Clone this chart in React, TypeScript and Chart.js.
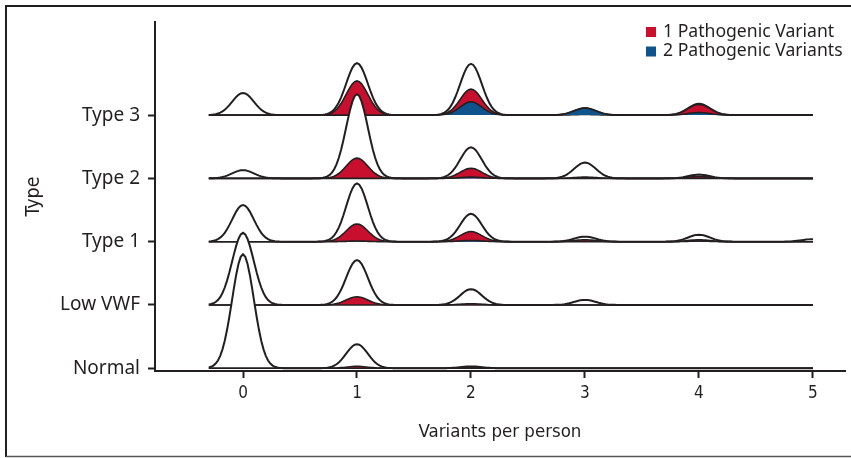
import React, { useEffect, useRef } from 'react';
import { Chart, registerables } from 'chart.js';

Chart.register(...registerables);

// ---- data ----
const ROW_LABELS = ['Normal', 'Low VWF', 'Type 1', 'Type 2', 'Type 3'];
const VARIANT_COUNTS = [0, 1, 2, 3, 4, 5];
const X_TICKS = [0, 1, 2, 3, 4, 5];
const X_AXIS_TITLE = 'Variants per person';
const Y_AXIS_TITLE = 'Type';
const SERIES_LABELS = ['1 Pathogenic Variant', '2 Pathogenic Variants'];

// density height at each variant count (in row units), one array per group
const TOTAL_NORMAL = [1.8, 0.38, 0.03, 0, 0, 0];
const TOTAL_LOW_VWF = [1.14, 0.71, 0.25, 0.08, 0, 0];
const TOTAL_TYPE1 = [0.58, 0.92, 0.44, 0.08, 0.11, 0.04];
const TOTAL_TYPE2 = [0.13, 1.33, 0.49, 0.25, 0.06, 0];
const TOTAL_TYPE3 = [0.35, 0.82, 0.81, 0.11, 0.18, 0];

const ONE_VARIANT_NORMAL = [0, 0.03, 0.01, 0, 0, 0];
const ONE_VARIANT_LOW_VWF = [0, 0.13, 0.02, 0, 0, 0];
const ONE_VARIANT_TYPE1 = [0, 0.28, 0.16, 0.03, 0.03, 0];
const ONE_VARIANT_TYPE2 = [0, 0.32, 0.16, 0.02, 0.03, 0];
const ONE_VARIANT_TYPE3 = [0, 0.54, 0.41, 0.01, 0.17, 0];

const TWO_VARIANTS_NORMAL = [0, 0, 0, 0, 0, 0];
const TWO_VARIANTS_LOW_VWF = [0, 0, 0, 0, 0, 0];
const TWO_VARIANTS_TYPE1 = [0, 0.01, 0.02, 0, 0.01, 0];
const TWO_VARIANTS_TYPE2 = [0, 0, 0.02, 0, 0, 0];
const TWO_VARIANTS_TYPE3 = [0, 0, 0.21, 0.11, 0.04, 0];

const TOTALS = [TOTAL_NORMAL, TOTAL_LOW_VWF, TOTAL_TYPE1, TOTAL_TYPE2, TOTAL_TYPE3];
const ONES = [ONE_VARIANT_NORMAL, ONE_VARIANT_LOW_VWF, ONE_VARIANT_TYPE1, ONE_VARIANT_TYPE2, ONE_VARIANT_TYPE3];
const TWOS = [TWO_VARIANTS_NORMAL, TWO_VARIANTS_LOW_VWF, TWO_VARIANTS_TYPE1, TWO_VARIANTS_TYPE2, TWO_VARIANTS_TYPE3];

const BANDWIDTH = 0.095;
const X_FROM = -0.3;
const X_TO = 5;

const INK = '#231f20';
const RED = '#c8102e';
const BLUE = '#0e538c';
const NARROW = '"Liberation Sans Narrow", "DejaVu Sans Condensed", sans-serif';

function ridge(heights: number[], row: number) {
  const pts: { x: number; y: number }[] = [];
  const n = 265;
  for (let i = 0; i <= n; i++) {
    const x = X_FROM + ((X_TO - X_FROM) * i) / n;
    let d = 0;
    VARIANT_COUNTS.forEach((k, j) => {
      const z = (x - k) / BANDWIDTH;
      d += heights[j] * Math.exp(-0.5 * z * z);
    });
    pts.push({ x, y: row + d });
  }
  return pts;
}

const framePlugin = {
  id: 'frame',
  beforeDraw(chart: any) {
    const ctx = chart.ctx;
    ctx.save();
    ctx.fillStyle = '#ffffff';
    ctx.fillRect(0, 0, chart.width, chart.height);
    ctx.strokeStyle = INK;
    ctx.lineWidth = 2;
    ctx.beginPath();
    ctx.moveTo(6, 457);
    ctx.lineTo(6, 6);
    ctx.lineTo(chart.width, 6);
    ctx.stroke();
    ctx.strokeStyle = '#555555';
    ctx.lineWidth = 1.5;
    ctx.beginPath();
    ctx.moveTo(6, 456.5);
    ctx.lineTo(chart.width, 456.5);
    ctx.stroke();
    ctx.restore();
  },
};

const legendPlugin = {
  id: 'ridgeLegend',
  afterDraw(chart: any) {
    const ctx = chart.ctx;
    ctx.save();
    ctx.font = '17.6px "Noto Sans"';
    ctx.textBaseline = 'middle';
    ctx.textAlign = 'left';
    const colors = [RED, BLUE];
    SERIES_LABELS.forEach((label, i) => {
      const cy = 31.5 + i * 19.5;
      ctx.fillStyle = colors[i];
      ctx.fillRect(646, cy - 4.5, 10, 10);
      ctx.fillStyle = INK;
      ctx.fillText(label, 663, cy);
    });
    ctx.restore();
  },
};

export default function App() {
  const ref = useRef<HTMLCanvasElement>(null);

  useEffect(() => {
    document.body.style.margin = '0';
    const datasets: any[] = [];
    // paint order: top row first so lower rows overlap it
    for (let r = ROW_LABELS.length - 1; r >= 0; r--) {
      datasets.push({
        label: ROW_LABELS[r] + ' total',
        data: ridge(TOTALS[r], r),
        borderColor: INK,
        borderWidth: 2,
        backgroundColor: '#ffffff',
        fill: { value: r },
        pointRadius: 0,
        tension: 0,
      });
      datasets.push({
        label: ROW_LABELS[r] + ' ' + SERIES_LABELS[0],
        data: ridge(ONES[r], r),
        borderColor: INK,
        borderWidth: 1.6,
        backgroundColor: RED,
        fill: { value: r },
        pointRadius: 0,
        tension: 0,
      });
      datasets.push({
        label: ROW_LABELS[r] + ' ' + SERIES_LABELS[1],
        data: ridge(TWOS[r], r),
        borderColor: INK,
        borderWidth: 1.6,
        backgroundColor: BLUE,
        fill: { value: r },
        pointRadius: 0,
        tension: 0,
      });
    }
    datasets.reverse(); // first dataset is drawn on top

    const chart = new Chart(ref.current!, {
      type: 'line',
      data: { datasets },
      plugins: [framePlugin, legendPlugin],
      options: {
        animation: false,
        responsive: true,
        maintainAspectRatio: false,
        layout: { padding: { top: 22, right: 6, left: 0, bottom: 0 } },
        plugins: {
          legend: { display: false },
          tooltip: { enabled: false },
          filler: { propagate: false },
        },
        scales: {
          x: {
            type: 'linear',
            min: -0.772,
            max: 5.281,
            afterFit: (s: any) => {
              s.height = 87;
            },
            afterBuildTicks: (s: any) => {
              s.ticks = X_TICKS.map((v) => ({ value: v }));
            },
            ticks: {
              color: INK,
              padding: 5,
              font: { family: NARROW, size: 17 },
              callback: (v: any) => String(v),
            },
            grid: {
              display: true,
              drawOnChartArea: false,
              drawTicks: true,
              tickLength: 7,
              tickWidth: 2,
              tickColor: INK,
            },
            border: { display: true, color: INK, width: 2 },
            title: {
              display: true,
              text: X_AXIS_TITLE,
              color: INK,
              font: { family: NARROW, size: 18.5 },
              padding: { top: 0, bottom: 15 },
            },
          },
          y: {
            type: 'linear',
            min: -0.043,
            max: 5.471,
            afterFit: (s: any) => {
              s.width = 155;
            },
            afterBuildTicks: (s: any) => {
              s.ticks = ROW_LABELS.map((_, i) => ({ value: i }));
            },
            ticks: {
              color: INK,
              padding: 8,
              font: { family: '"Noto Sans", sans-serif', size: 19 },
              callback: (v: any) => ROW_LABELS[Math.round(Number(v))] ?? '',
            },
            grid: {
              display: true,
              drawOnChartArea: false,
              drawTicks: true,
              tickLength: 7,
              tickWidth: 2,
              tickColor: INK,
            },
            border: { display: true, color: INK, width: 2 },
            title: {
              display: true,
              text: Y_AXIS_TITLE,
              color: INK,
              font: { family: NARROW, size: 19.5 },
              padding: { top: 22, bottom: 0 },
            },
          },
        },
      },
    });
    return () => chart.destroy();
  }, []);

  return (
    <div style={{ position: 'relative', width: 851, height: 458 }}>
      <canvas ref={ref} />
    </div>
  );
}
